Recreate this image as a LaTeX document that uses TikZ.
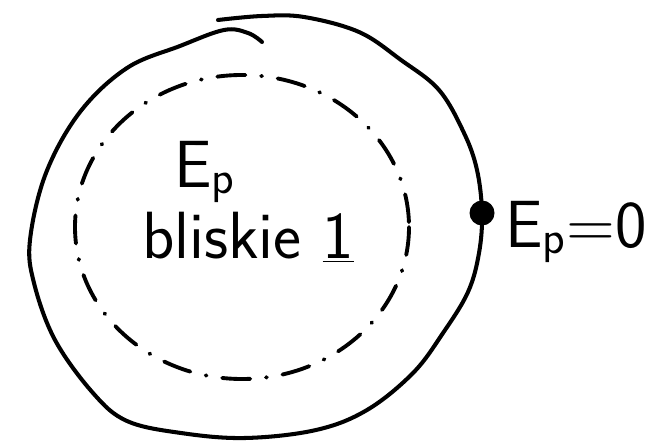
\documentclass[tikz,border=0pt]{standalone}
\usepackage{tikz}
\usetikzlibrary{positioning}

\begin{document}
\begin{tikzpicture}[
    x=0.02cm, y=-0.02cm,
    font=\sffamily,
    outer/.style={draw=black, line width=2.3pt, line cap=round, line join=round},
    inner/.style={draw=black, line width=2.2pt, line cap=round,
        dash pattern=on 16pt off 9pt on 0.5pt off 9pt},
    point/.style={circle, fill=black, inner sep=0pt, minimum size=5mm},
    hand/.style={inner sep=0pt, font=\sffamily\fontsize{38}{44}\selectfont}
]

% ---- Frame of the page ----
\useasboundingbox (0,0) rectangle (661,445);

% ---- Outer boundary (drawn by hand, ends overlap at the top) ----
\draw[outer] plot[smooth, tension=0.6] coordinates {
    (218,20) (262,16) (304,17) (359,32) (401,60) (439,90) (464,133)
    (477,170) (482,213) (479,253) (468,292) (443,333) (413,373)
    (367,410) (316,430) (245,438) (181,433) (127,421) (93,393)
    (55,340) (34,283) (30,240) (46,173) (80,112) (127,68)
    (180,46) (224,30) (248,33) (262,42)};

% ---- Inner dashed region ----
\draw[inner] (242,227) ellipse [x radius=167, y radius=152];

% ---- Labels inside ----
\node[hand] (ep)   at (205,172) {E\textsubscript{p}};
\node[hand] (near) at (248,237) {bliskie \underline{1}};

% ---- Point on the boundary and its label ----
\node[point] (edge) at (482,213) {};
\node[hand, anchor=west] (zero) at (505,232) {E\textsubscript{p}=0};

\end{tikzpicture}
\end{document}
